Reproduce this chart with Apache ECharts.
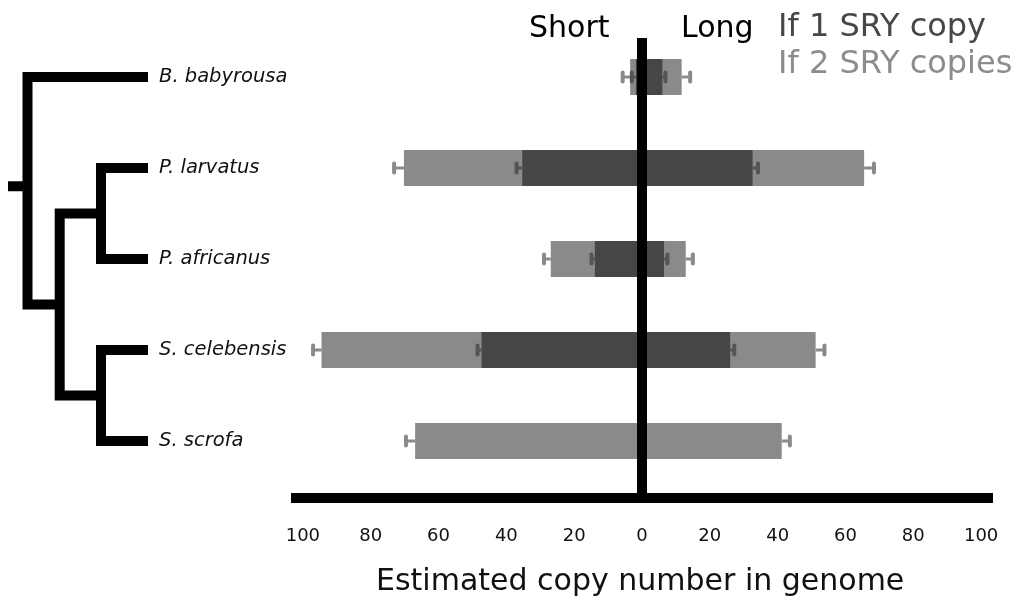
<!DOCTYPE html>
<html>
<head>
<meta charset="utf-8">
<script src="https://cdn.jsdelivr.net/npm/echarts@6/dist/echarts.min.js"></script>
<style>
html,body{margin:0;padding:0;background:#fff;}
#chart{width:1027px;height:601px;}
</style>
</head>
<body>
<div id="chart"></div>
<script>
// ---- data ----
const species = ['B. babyrousa', 'P. larvatus', 'P. africanus', 'S. celebensis', 'S. scrofa'];
// If 1 SRY copy (dark)
const oneShort    = [-1.8, -35.3, -13.9, -47.3, null];
const oneShortErr = [1.2, 1.7, 1.0, 1.2, null];
const oneLong     = [6.0, 32.6, 6.5, 26.0, null];
const oneLongErr  = [0.9, 1.6, 1.0, 1.2, null];
// If 2 SRY copies (light)
const twoShort    = [-3.5, -70.2, -26.9, -94.5, -66.9];
const twoShortErr = [2.2, 2.9, 2.0, 2.5, 2.7];
const twoLong     = [11.7, 65.5, 12.9, 51.2, 41.2];
const twoLongErr  = [2.5, 2.9, 2.1, 2.6, 2.4];
const tickValues  = [-100, -80, -60, -40, -20, 0, 20, 40, 60, 80, 100];
// phylogeny: branch paths as [depth, row] points
const treePaths = [
  [[140, 1], [93, 1], [93, 2], [140, 2]],
  [[140, 3], [93, 3], [93, 4], [140, 4]],
  [[93, 1.5], [51.7, 1.5], [51.7, 3.5], [93, 3.5]],
  [[140, 0], [19.5, 0], [19.5, 2.5], [51.7, 2.5]],
  [[0, 1.2], [19.5, 1.2]]
];

const FONT = 'DejaVu Sans';
const LIGHT = '#8a8a8a', DARK = '#464646';
const XMIN = -103.5, XMAX = 103.5;

function errData(vals, errs) {
  const out = [];
  vals.forEach((v, i) => { if (v != null) out.push([i, v, errs[i]]); });
  return out;
}
function errSeries(name, vals, errs, color) {
  return {
    type: 'custom', name: name, xAxisIndex: 0, yAxisIndex: 0, z: 5,
    encode: { x: 1, y: 0 },
    data: errData(vals, errs),
    renderItem: function (params, api) {
      const cat = api.value(0), v = api.value(1), e = api.value(2);
      const s = v < 0 ? -1 : 1;
      const p0 = api.coord([v, cat]);
      const p1 = api.coord([v + s * e, cat]);
      return {
        type: 'group', children: [
          { type: 'line', shape: { x1: p0[0], y1: p0[1], x2: p1[0], y2: p1[1] }, style: { stroke: color, lineWidth: 3 } },
          { type: 'line', shape: { x1: p1[0], y1: p1[1] - 4.5, x2: p1[0], y2: p1[1] + 4.5 }, style: { stroke: color, lineWidth: 4, lineCap: 'round' } }
        ]
      };
    }
  };
}
function barSeries(name, vals, color, z) {
  return {
    type: 'bar', name: name, xAxisIndex: 0, yAxisIndex: 0, data: vals,
    barWidth: 36, barGap: '-100%', z: z,
    itemStyle: { color: color }
  };
}

const series = [
  barSeries('If 2 SRY copies', twoShort, LIGHT, 2),
  barSeries('If 2 SRY copies', twoLong, LIGHT, 2),
  barSeries('If 1 SRY copy', oneShort, DARK, 3),
  barSeries('If 1 SRY copy', oneLong, DARK, 3),
  errSeries('errTwoShort', twoShort, twoShortErr, LIGHT),
  errSeries('errTwoLong', twoLong, twoLongErr, LIGHT),
  errSeries('errOneShort', oneShort, oneShortErr, '#555555'),
  errSeries('errOneLong', oneLong, oneLongErr, '#555555'),
  {
    type: 'line', name: 'zero', xAxisIndex: 1, yAxisIndex: 1, z: 10,
    data: [[0, 0], [0, 1]], symbol: 'none', silent: true,
    lineStyle: { color: '#000', width: 10, cap: 'butt' }
  }
];
treePaths.forEach((p, i) => {
  series.push({
    type: 'line', name: 'tree' + i, xAxisIndex: 2, yAxisIndex: 2,
    data: p, symbol: 'none', silent: true,
    lineStyle: { color: '#000', width: 10, cap: 'butt', join: 'miter' }
  });
});

const chart = echarts.init(document.getElementById('chart'), null, { renderer: 'canvas' });
chart.setOption({
  animation: false,
  backgroundColor: '#fff',
  textStyle: { fontFamily: FONT },
  title: {
    text: 'Estimated copy number in genome',
    left: 376, top: 567, padding: 0,
    textStyle: { fontFamily: FONT, fontSize: 30, fontWeight: 'normal', color: '#111' }
  },
  legend: {
    orient: 'vertical', left: 773, top: 12, padding: 0, itemGap: 5,
    icon: 'none', itemWidth: 0, selectedMode: false,
    textStyle: { fontFamily: FONT, fontSize: 32 },
    data: [
      { name: 'If 1 SRY copy', textStyle: { color: '#474747' } },
      { name: 'If 2 SRY copies', textStyle: { color: '#8c8c8c' } }
    ]
  },
  graphic: [
    { type: 'text', left: 529, top: 14, style: { text: 'Short', fontFamily: FONT, fontSize: 30, fill: '#000' } },
    { type: 'text', left: 681, top: 14, style: { text: 'Long', fontFamily: FONT, fontSize: 30, fill: '#000' } }
  ],
  grid: [
    { left: 291, right: 34, top: 31.5, bottom: 114.5 },
    { left: 291, right: 34, top: 38, bottom: 103 },
    { left: 8, width: 142, top: 31.5, bottom: 114.5 }
  ],
  xAxis: [
    { type: 'value', gridIndex: 0, min: XMIN, max: XMAX, show: false },
    {
      type: 'value', gridIndex: 1, min: XMIN, max: XMAX, position: 'bottom',
      axisLine: { show: true, onZero: false, lineStyle: { color: '#000', width: 10, cap: 'butt' } },
      axisTick: { show: false },
      splitLine: { show: false },
      axisLabel: {
        customValues: tickValues, margin: 29,
        fontFamily: FONT, fontSize: 18, color: '#111',
        formatter: v => String(Math.abs(v))
      }
    },
    { type: 'value', gridIndex: 2, min: 0, max: 142, show: false }
  ],
  yAxis: [
    {
      type: 'category', gridIndex: 0, data: species, inverse: true,
      axisLine: { show: false }, axisTick: { show: false }, splitLine: { show: false },
      axisLabel: {
        align: 'left', margin: 132, fontFamily: FONT, fontStyle: 'italic',
        fontSize: 19.5, color: '#111'
      }
    },
    { type: 'value', gridIndex: 1, min: 0, max: 1, show: false },
    { type: 'value', gridIndex: 2, min: -0.5, max: 4.5, inverse: true, show: false }
  ],
  series: series
});
</script>
</body>
</html>
